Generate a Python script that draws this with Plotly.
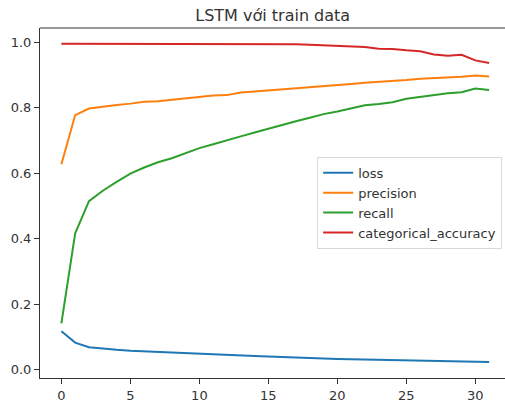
import plotly.graph_objects as go

epochs = list(range(32))
loss = [0.117, 0.082, 0.068, 0.063, 0.060, 0.057, 0.055, 0.053, 0.051, 0.050,
        0.048, 0.046, 0.045, 0.043, 0.041, 0.040, 0.038, 0.036, 0.035, 0.033,
        0.032, 0.031, 0.030, 0.029, 0.028, 0.027, 0.026, 0.025, 0.025, 0.024,
        0.023, 0.023]
precision = [0.627, 0.777, 0.797, 0.803, 0.808, 0.812, 0.818, 0.819, 0.824, 0.828,
             0.832, 0.837, 0.838, 0.846, 0.849, 0.852, 0.855, 0.858, 0.861, 0.865,
             0.869, 0.872, 0.876, 0.878, 0.880, 0.884, 0.888, 0.890, 0.891, 0.894,
             0.898, 0.895]
recall = [0.141, 0.416, 0.514, 0.546, 0.573, 0.598, 0.617, 0.633, 0.645, 0.661,
          0.676, 0.688, 0.699, 0.712, 0.724, 0.736, 0.748, 0.758, 0.769, 0.780,
          0.788, 0.798, 0.807, 0.811, 0.816, 0.827, 0.833, 0.840, 0.844, 0.847,
          0.858, 0.854]
categorical_accuracy = [0.995, 0.995, 0.995, 0.995, 0.995, 0.995, 0.995, 0.995, 0.995, 0.995,
                        0.995, 0.995, 0.994, 0.994, 0.994, 0.993, 0.993, 0.993, 0.992, 0.990,
                        0.990, 0.988, 0.985, 0.980, 0.979, 0.975, 0.972, 0.962, 0.958, 0.961,
                        0.944, 0.936]

series = [("loss", loss, "#1f77b4"),
          ("precision", precision, "#ff7f0e"),
          ("recall", recall, "#2ca02c"),
          ("categorical_accuracy", categorical_accuracy, "#d62728")]

fig = go.Figure()
for name, vals, color in series:
    fig.add_trace(go.Scatter(x=epochs, y=vals, mode="lines", name=name,
                             line=dict(color=color, width=2)))

font = "DejaVu Sans, sans-serif"
fig.update_layout(
    width=505, height=403,
    margin=dict(l=40, r=0, t=28, b=25),
    paper_bgcolor="white", plot_bgcolor="white",
    font=dict(family=font, size=13, color="#333"),
    title=dict(text="LSTM với train data", x=0.54, xanchor="center",
               y=0.962, yanchor="middle", font=dict(size=16, color="#333")),
    showlegend=True,
    legend=dict(x=0.596, y=0.632, xanchor="left", yanchor="top",
                bgcolor="rgba(255,255,255,0.8)", bordercolor="#d8d8d8", borderwidth=1,
                font=dict(size=13, color="#333"), tracegroupgap=0, itemwidth=30),
    xaxis=dict(range=[-1.55, 32.15], tickvals=[0, 5, 10, 15, 20, 25, 30],
               showgrid=False, zeroline=False, showline=True, linecolor="#333",
               linewidth=1, ticks="outside", ticklen=5, tickcolor="#333"),
    yaxis=dict(range=[-0.026, 1.043], tickvals=[0, 0.2, 0.4, 0.6, 0.8, 1.0],
               tickformat=".1f", showgrid=False, zeroline=False, showline=True,
               linecolor="#333", linewidth=1, ticks="outside", ticklen=5,
               tickcolor="#333"),
    shapes=[dict(type="line", xref="paper", yref="paper", x0=0, x1=1, y0=1, y1=1,
                 line=dict(color="#333", width=1))],
)

fig.write_html("out.html")
